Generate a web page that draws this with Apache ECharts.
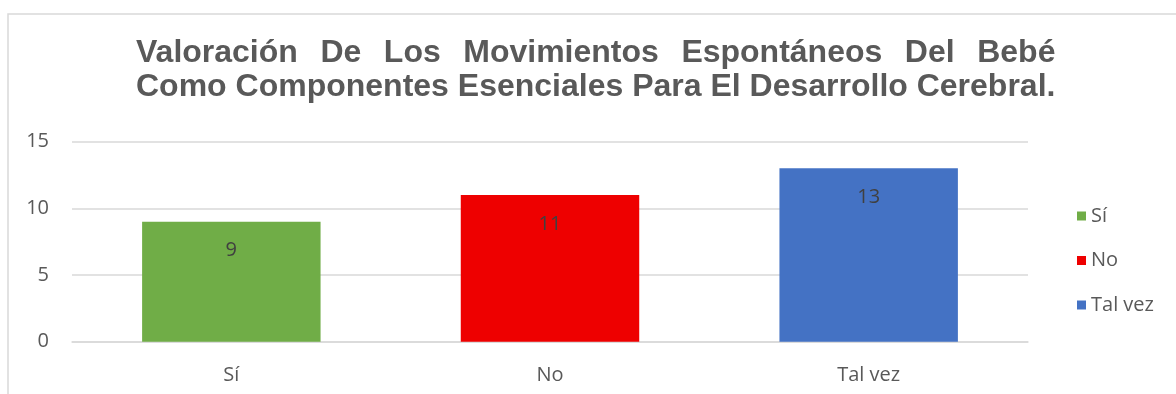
<!DOCTYPE html>
<html>
<head>
<meta charset="utf-8">
<script src="https://cdn.jsdelivr.net/npm/echarts@6/dist/echarts.min.js"></script>
<style>
  html, body { margin: 0; padding: 0; background: #fff; }
  #chart { width: 1176px; height: 394px; }
</style>
</head>
<body>
<div id="chart"></div>
<script>
// Survey answers and their counts
const categories = ['Sí', 'No', 'Tal vez'];
const counts = [9, 11, 13];
const seriesColors = ['#70AD47', '#EE0000', '#4472C4'];
const yTicks = { min: 0, max: 15, interval: 5 };

const titleLine1Words = ['Valoración', 'De', 'Los', 'Movimientos', 'Espontáneos', 'Del', 'Bebé'];
const titleLine2 = 'Como Componentes Esenciales Para El Desarrollo Cerebral.';

const titleFamily = '"Liberation Sans", Arial, sans-serif';
const titleSize = 32;
const labelFamily = '"Open Sans", "Noto Sans", sans-serif';

// First title line is justified to the width of the second line
const ctx = document.createElement('canvas').getContext('2d');
ctx.font = 'bold ' + titleSize + 'px ' + titleFamily;
const line2Width = ctx.measureText(titleLine2).width;
const wordsWidth = titleLine1Words.reduce((s, w) => s + ctx.measureText(w).width, 0);
const gap = (line2Width - wordsWidth) / (titleLine1Words.length - 1);
const line1 = titleLine1Words.map(w => '{w|' + w + '}').join('{g| }');
const titleText = line1 + '\n{w|' + titleLine2 + '}';

const titleRich = {
  fontFamily: titleFamily,
  fontSize: titleSize,
  fontWeight: 'bold',
  color: '#595959',
  lineHeight: 34.5
};

// One series per answer, so each gets its own legend entry; stacking keeps bars centred
const series = categories.map((name, i) => ({
  name: name,
  type: 'bar',
  stack: 'answers',
  barWidth: '56%',
  itemStyle: { color: seriesColors[i] },
  label: {
    show: true,
    position: 'insideTop',
    distance: 19,
    color: '#404040',
    fontSize: 20,
    fontFamily: labelFamily
  },
  data: categories.map((c, j) => (j === i ? counts[i] : '-'))
}));

const chart = echarts.init(document.getElementById('chart'), null, { renderer: 'canvas' });
chart.setOption({
  backgroundColor: '#ffffff',
  animation: false,
  graphic: [{
    type: 'rect',
    shape: { x: 8, y: 14, width: 1300, height: 500 },
    style: { fill: 'none', stroke: '#d9d9d9', lineWidth: 1.5 },
    silent: true
  }],
  title: {
    text: titleText,
    left: 136,
    top: 35.5,
    padding: 0,
    textStyle: Object.assign({
      rich: {
        w: Object.assign({}, titleRich),
        g: Object.assign({}, titleRich, { width: gap })
      }
    }, titleRich)
  },
  legend: {
    orient: 'vertical',
    left: 1072,
    top: 201,
    icon: 'rect',
    itemWidth: 9,
    itemHeight: 9,
    itemGap: 24.5,
    textStyle: { color: '#595959', fontSize: 20, fontFamily: labelFamily },
    data: categories
  },
  grid: { left: 72, right: 148, top: 141.7, bottom: 52.3, containLabel: false },
  xAxis: {
    type: 'category',
    data: categories,
    axisLine: { lineStyle: { color: '#d9d9d9', width: 1.5 } },
    axisTick: { show: false },
    axisLabel: { color: '#595959', fontSize: 20, fontFamily: labelFamily, margin: 24 }
  },
  yAxis: {
    type: 'value',
    min: yTicks.min,
    max: yTicks.max,
    interval: yTicks.interval,
    axisLine: { show: false },
    axisTick: { show: false },
    axisLabel: { color: '#595959', fontSize: 20, fontFamily: labelFamily, margin: 23 },
    splitLine: { lineStyle: { color: '#d9d9d9', width: 1.5 } }
  },
  series: series
});
</script>
</body>
</html>
